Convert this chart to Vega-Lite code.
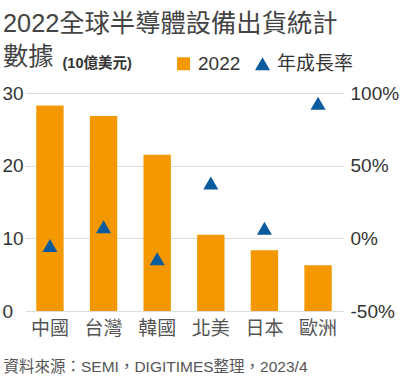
{
  "$schema": "https://vega.github.io/schema/vega-lite/v6.json",
  "width": 318,
  "height": 218,
  "autosize": {"type": "none"},
  "padding": {"left": 25, "top": 93, "right": 57, "bottom": 69},
  "background": "white",
  "config": {
    "font": "Liberation Sans, Noto Sans CJK TC",
    "view": {"stroke": null}
  },
  "title": {
    "text": ["2022全球半導體設備出貨統計", "數據"],
    "fontSize": 25.3,
    "fontWeight": "normal",
    "lineHeight": 33,
    "color": "#444444",
    "anchor": "start",
    "frame": "group",
    "baseline": "top",
    "offset": 0,
    "dx": -22,
    "dy": 16
  },
  "data": {
    "values": [
      {"region": "中國", "sales": 28.27, "growth": -5},
      {"region": "台灣", "sales": 26.82, "growth": 8},
      {"region": "韓國", "sales": 21.51, "growth": -14},
      {"region": "北美", "sales": 10.48, "growth": 38},
      {"region": "日本", "sales": 8.35, "growth": 7},
      {"region": "歐洲", "sales": 6.28, "growth": 93}
    ]
  },
  "encoding": {
    "x": {
      "field": "region",
      "type": "nominal",
      "sort": null,
      "scale": {"paddingInner": 0.49, "paddingOuter": 0.21},
      "axis": {
        "labelAngle": 0,
        "labelFontSize": 19,
        "labelColor": "#555555",
        "labelPadding": 8,
        "ticks": false,
        "domain": false,
        "title": "資料來源：SEMI，DIGITIMES整理，2023/4",
        "titleFontSize": 15.5,
        "titleFontWeight": "normal",
        "titleColor": "#555555",
        "titleAlign": "left",
        "titleAnchor": "start",
        "titleBaseline": "alphabetic",
        "titleX": -22,
        "titleY": 60
      }
    }
  },
  "layer": [
    {
      "mark": {"type": "bar", "color": "#f39800"},
      "encoding": {
        "y": {
          "field": "sales",
          "type": "quantitative",
          "scale": {"domain": [0, 30], "nice": false},
          "axis": {
            "values": [0, 10, 20, 30],
            "orient": "left",
            "grid": true,
            "gridColor": "#dddddd",
            "domain": false,
            "ticks": false,
            "labelAlign": "left",
            "labelPadding": 23,
            "labelFontSize": 19,
            "labelColor": "#333333",
            "title": "(10億美元)",
            "titleAngle": 0,
            "titleAlign": "left",
            "titleBaseline": "alphabetic",
            "titleX": 37,
            "titleY": -26,
            "titleFontSize": 14.5,
            "titleFontWeight": "bold",
            "titleColor": "#333333"
          }
        },
        "color": {
          "datum": "2022",
          "type": "nominal",
          "scale": {"domain": ["2022", "年成長率"], "range": ["#f39800", "#0a5a9e"]},
          "legend": {
            "title": null,
            "orient": "none",
            "direction": "horizontal",
            "legendX": 149,
            "legendY": -39,
            "labelFontSize": 19,
            "labelColor": "#333333",
            "labelOffset": 5,
            "columnPadding": 12,
            "symbolSize": 169,
            "symbolStrokeWidth": 0,
            "encode": {
              "symbols": {
                "update": {
                  "shape": {"signal": "datum.value === '2022' ? 'square' : 'triangle-up'"},
                  "size": {"signal": "datum.value === '2022' ? 169 : 225"},
                  "strokeWidth": {"value": 0}
                }
              }
            }
          }
        }
      }
    },
    {
      "mark": {"type": "point", "shape": "triangle-up", "filled": true, "size": 225, "opacity": 1},
      "encoding": {
        "y": {
          "field": "growth",
          "type": "quantitative",
          "scale": {"domain": [-50, 100], "nice": false},
          "axis": {
            "values": [-50, 0, 50, 100],
            "orient": "right",
            "grid": false,
            "domain": false,
            "ticks": false,
            "labelAlign": "left",
            "labelPadding": 7,
            "labelFontSize": 19,
            "labelColor": "#333333",
            "labelExpr": "datum.value + '%'",
            "title": null
          }
        },
        "color": {"datum": "年成長率", "type": "nominal"}
      }
    }
  ],
  "resolve": {"scale": {"y": "independent"}}
}
